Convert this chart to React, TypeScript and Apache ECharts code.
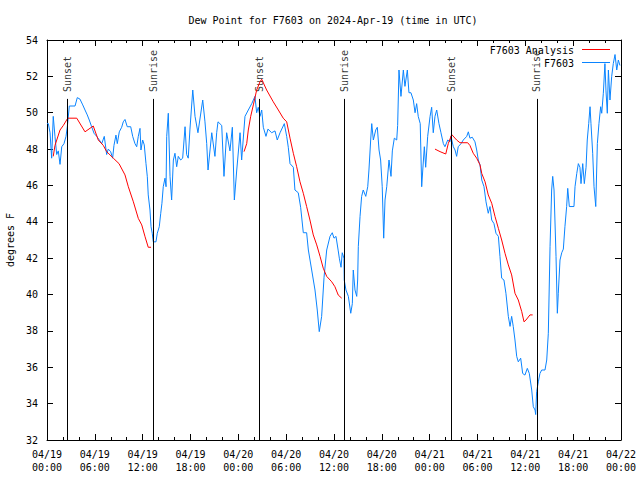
import React, { useEffect, useRef } from "react";
import * as echarts from "echarts";

// x values are minutes since 2024-04-19 00:00 UTC
const xTickLabels = [
  "04/19\n00:00", "04/19\n06:00", "04/19\n12:00", "04/19\n18:00",
  "04/20\n00:00", "04/20\n06:00", "04/20\n12:00", "04/20\n18:00",
  "04/21\n00:00", "04/21\n06:00", "04/21\n12:00", "04/21\n18:00",
  "04/22\n00:00",
];

const obsMinutes = [
  0, 10, 23, 35, 47, 60, 73, 85, 98, 111, 128, 143, 153, 168, 211, 228, 248, 269, 286, 303,
  318, 336, 354, 374, 394, 412, 431, 449, 461, 479, 494, 504, 519, 529, 544, 562, 574, 587, 604, 630,
  645, 662, 675, 687, 700, 707, 720, 732, 745, 755, 762, 775, 783, 792, 800, 820, 830, 845, 856, 865,
  875, 888, 896, 901, 913, 926, 938, 951, 963, 976, 988, 1006, 1021, 1039, 1051, 1063, 1076, 1097, 1114, 1136,
  1172, 1189, 1202, 1212, 1240, 1264, 1277, 1287, 1315, 1332, 1352, 1377, 1395, 1410, 1428, 1453, 1465, 1490, 1515, 1541,
  1565, 1578, 1590, 1603, 1616, 1628, 1648, 1663, 1691, 1716, 1733, 1754, 1786, 1804, 1816, 1829, 1854, 1866, 1891, 1909,
  1929, 1954, 1967, 1992, 2017, 2034, 2049, 2067, 2085, 2105, 2130, 2147, 2160, 2175, 2192, 2200, 2213, 2222, 2235, 2237,
  2250, 2268, 2286, 2298, 2305, 2318, 2331, 2338, 2343, 2356, 2368, 2380, 2399, 2414, 2423, 2436, 2444, 2456, 2474, 2486,
  2499, 2511, 2523, 2534, 2544, 2557, 2574, 2589, 2599, 2614, 2632, 2639, 2649, 2664, 2682, 2694, 2712, 2724, 2739, 2757,
  2770, 2782, 2794, 2809, 2820, 2828, 2840, 2850, 2865, 2883, 2895, 2907, 2920, 2933, 2950, 2965, 2983, 2995, 3016, 3033,
  3040, 3058, 3071, 3083, 3095, 3116, 3133, 3159, 3171, 3183, 3201, 3221, 3234, 3246, 3259, 3272, 3289, 3304, 3321, 3334,
  3347, 3364, 3379, 3397, 3409, 3422, 3439, 3454, 3472, 3485, 3497, 3509, 3522, 3535, 3547, 3565, 3580, 3597, 3615, 3630,
  3648, 3660, 3673, 3678, 3685, 3698, 3710, 3723, 3748, 3761, 3773, 3786, 3798, 3806, 3816, 3831, 3841, 3848, 3861, 3874,
  3886, 3898, 3911, 3919, 3931, 3966, 3974, 3987, 3999, 4011, 4019, 4032, 4044, 4057, 4066, 4077, 4087, 4094, 4107, 4117,
  4130, 4142, 4154, 4167, 4175, 4187, 4199, 4207, 4217, 4225, 4237, 4250, 4262, 4275, 4288, 4300, 4312,
];

const obsValues = [
  49.4, 49.4, 48.9, 47.5, 49.8, 48.7, 47.7, 47.9, 47.16, 48.13, 48.3, 48.7, 49.23, 50.37, 50.37, 50.83, 50.75, 50.43, 50.15, 49.88,
  49.6, 49.23, 48.87, 48.7, 48.5, 48.3, 48.7, 47.7, 48.0, 47.86, 47.5, 48.2, 48.77, 48.3, 48.95, 49.2, 49.5, 49.63, 49.23, 49.23,
  48.7, 48.3, 48.13, 48.7, 49.14, 47.95, 48.5, 48.23, 47.2, 46.48, 45.48, 44.65, 43.73, 43.37, 42.9, 42.9, 43.37, 43.73, 44.47, 45.02,
  45.93, 46.4, 45.93, 48.7, 49.97, 46.48, 45.2, 47.4, 47.77, 47.03, 47.6, 47.4, 47.5, 49.23, 47.7, 47.5, 49.1, 51.25, 49.8, 48.9,
  50.7, 49.5, 48.3, 46.85, 48.9, 47.6, 48.9, 49.5, 49.3, 46.5, 48.9, 47.9, 49.2, 45.2, 46.85, 48.9, 47.4, 49.8, 50.15, 50.5,
  50.9, 50.0, 50.3, 49.8, 50.15, 49.2, 48.7, 49.1, 48.9, 49.0, 48.5, 48.9, 49.4, 48.7, 48.1, 47.2, 47.0, 45.75, 45.6, 44.8,
  43.4, 43.4, 42.45, 41.35, 40.25, 39.15, 37.96, 38.8, 40.95, 42.45, 43.2, 43.4, 43.1, 43.2, 42.4, 42.0, 41.5, 42.3, 42.0, 40.8,
  40.25, 39.9, 38.97, 39.5, 41.35, 40.25, 39.9, 40.8, 42.65, 44.3, 45.4, 45.75, 45.4, 45.93, 46.85, 48.5, 49.4, 48.5, 49.05, 49.2,
  47.95, 47.4, 45.93, 43.1, 45.2, 45.93, 47.4, 46.5, 47.9, 48.6, 48.5, 49.3, 52.35, 50.9, 52.35, 51.45, 52.35, 51.1, 51.1, 50.7,
  50.0, 50.5, 49.8, 49.4, 45.93, 46.85, 48.13, 47.0, 48.7, 49.8, 50.3, 48.9, 49.8, 50.15, 49.4, 48.9, 48.3, 48.13, 48.5, 48.4,
  48.7, 48.13, 47.95, 47.6, 48.13, 48.3, 48.5, 48.7, 48.95, 48.6, 48.65, 48.4, 47.95, 47.4, 47.13, 46.3, 45.93, 45.1, 44.47, 44.84,
  44.1, 43.9, 43.37, 43.2, 42.1, 40.9, 40.8, 40.07, 38.8, 38.25, 38.8, 38.25, 37.5, 36.6, 36.3, 36.5, 35.66, 35.57, 35.94, 35.66,
  34.75, 33.83, 33.65, 33.4, 34.66, 35.2, 35.66, 35.85, 35.85, 36.4, 37.87, 42.65, 45.75, 46.5, 45.75, 42.1, 38.97, 40.07, 41.9, 42.3,
  42.5, 43.73, 44.84, 45.84, 44.84, 44.84, 45.93, 46.66, 47.2, 47.0, 46.1, 47.2, 46.1, 47.0, 48.5, 49.4, 50.33, 49.4, 47.77, 45.93,
  44.84, 48.3, 49.4, 50.33, 49.97, 51.07, 52.7, 51.2, 49.97, 52.35, 50.7, 52.0, 52.7, 53.2, 52.35, 52.9, 52.6,
];

// Analysis series: null marks gaps between segments
const anaMinutes = [
  47, 60, 98, 123, 156, 224, 286, 348, 386, 424, 449, 499, 542, 587, 612, 650, 687, 713, 738, 762, 783,
  1100,
  1483, 1503, 1515, 1533, 1553, 1578, 1603, 1616, 1653, 1703, 1741, 1778, 1804, 1829, 1854, 1879, 1904, 1929, 1954, 1979,
  2004, 2030, 2055, 2079, 2105, 2143, 2167, 2192, 2218,
  2600,
  2920, 2958, 3001, 3020, 3046, 3083, 3108, 3166, 3183, 3208, 3234, 3259, 3272, 3297, 3321, 3347, 3372, 3397, 3422, 3447,
  3472, 3497, 3522, 3547, 3573, 3590, 3605, 3635, 3655,
];
const anaValues = [
  47.6, 48.2, 49.05, 49.3, 49.7, 49.7, 48.95, 49.27, 48.5, 48.2, 47.86, 47.5, 47.2, 46.58, 45.93, 45.1, 44.19, 43.83, 43.18, 42.6, 42.6,
  null,
  47.86, 48.3, 49.05, 49.8, 50.43, 51.25, 51.7, 51.84, 51.25, 50.6, 50.15, 49.7, 49.5, 48.6, 47.77, 47.03, 46.2, 45.57, 44.84, 44.1,
  43.28, 42.73, 42.1, 41.45, 41.0, 40.7, 40.43, 39.97, 39.8,
  null,
  48.0, 47.86, 47.73, 48.3, 48.8, 48.5, 48.35, 48.35, 48.2, 47.77, 47.5, 47.13, 46.66, 46.2, 45.48, 45.02, 44.29, 43.64, 43.0, 42.27,
  41.63, 41.08, 40.07, 39.7, 39.06, 38.5, 38.6, 38.88, 38.88,
];

const sunEventMinutes = [153, 800, 1598, 2238, 3043, 3686];
const sunEventNames = ["Sunset", "Sunrise", "Sunset", "Sunrise", "Sunset", "Sunrise"];

const titleText = "Dew Point for F7603 on 2024-Apr-19 (time in UTC)";
const yAxisTitle = "degrees F";
const seriesNames = ["F7603 Analysis", "F7603"];

const FONT = "DejaVu Sans Mono";
const BLUE = "#0a84ff";
const RED = "#ff0000";

export default function App() {
  const ref = useRef<HTMLDivElement>(null);
  useEffect(() => {
    if (!ref.current) return;
    const chart = echarts.init(ref.current, null, { renderer: "svg" });
    const yMin = 32, yMax = 54, lineTop = 50.76, labelBase = 51.14;

    const xAxisCommon = {
      type: "value" as const,
      min: 0,
      max: 4320,
      interval: 360,
      splitLine: { show: false },
      axisLine: { show: true, onZero: false, lineStyle: { color: "#000", width: 1 } },
      axisTick: { show: true, inside: true, length: 6, lineStyle: { color: "#000" } },
      minorTick: { show: true, splitNumber: 3, length: 3, lineStyle: { color: "#000" } },
    };
    const yAxisCommon = {
      type: "value" as const,
      min: yMin,
      max: yMax,
      interval: 2,
      splitLine: { show: false },
      axisLine: { show: true, onZero: false, lineStyle: { color: "#000", width: 1 } },
      axisTick: { show: true, inside: true, length: 6, lineStyle: { color: "#000" } },
    };

    chart.setOption({
      animation: false,
      textStyle: { fontFamily: FONT },
      grid: { left: 47, right: 19, top: 40, bottom: 40, containLabel: false },
      xAxis: [
        {
          ...xAxisCommon,
          position: "bottom",
          axisLabel: {
            show: true,
            margin: 8,
            color: "#000",
            fontFamily: FONT,
            fontSize: 10,
            lineHeight: 13,
            formatter: (v: number) => xTickLabels[Math.round(v / 360)] ?? "",
          },
        },
        { ...xAxisCommon, position: "top", axisLabel: { show: false } },
      ],
      yAxis: [
        {
          ...yAxisCommon,
          position: "left",
          axisLabel: { show: true, margin: 9, color: "#000", fontFamily: FONT, fontSize: 10 },
        },
        { ...yAxisCommon, position: "right", axisLabel: { show: false } },
      ],
      graphic: [
        {
          type: "text",
          x: 333,
          y: 20,
          style: { text: titleText, font: `10px '${FONT}'`, fill: "#000", textAlign: "center", textVerticalAlign: "middle" },
        },
        {
          type: "text",
          x: 10,
          y: 240,
          rotation: Math.PI / 2,
          style: { text: yAxisTitle, font: `10px '${FONT}'`, fill: "#000", textAlign: "center", textVerticalAlign: "middle" },
        },
        {
          type: "text",
          x: 574,
          y: 50,
          z: 100,
          style: { text: seriesNames[0], font: `10px '${FONT}'`, fill: "#000", textAlign: "right", textVerticalAlign: "middle" },
        },
        {
          type: "line",
          z: 100,
          shape: { x1: 582, y1: 49.5, x2: 610, y2: 49.5 },
          style: { stroke: RED, lineWidth: 1 },
        },
        {
          type: "text",
          x: 574,
          y: 63,
          z: 100,
          style: { text: seriesNames[1], font: `10px '${FONT}'`, fill: "#000", textAlign: "right", textVerticalAlign: "middle" },
        },
        {
          type: "line",
          z: 100,
          shape: { x1: 582, y1: 62.5, x2: 610, y2: 62.5 },
          style: { stroke: BLUE, lineWidth: 1 },
        },
      ],
      series: [
        {
          name: "sun",
          type: "line",
          data: [],
          markLine: {
            silent: true,
            symbol: "none",
            label: { show: false },
            lineStyle: { color: "#000", width: 1, type: "solid" },
            data: sunEventMinutes.map((m) => [{ coord: [m, yMin] }, { coord: [m, lineTop] }]),
          },
        },
        {
          name: "sunLabels",
          type: "scatter",
          symbolSize: 0,
          silent: true,
          data: sunEventMinutes.map((m) => [m, labelBase]),
          label: {
            show: true,
            position: [0, 0],
            rotate: 90,
            align: "left",
            verticalAlign: "middle",
            color: "#000",
            fontFamily: FONT,
            fontSize: 10,
            formatter: (p: any) => sunEventNames[p.dataIndex],
          },
        },
        {
          name: seriesNames[1],
          type: "line",
          showSymbol: false,
          symbol: "none",
          lineStyle: { color: BLUE, width: 1 },
          data: obsMinutes.map((m, i) => [m, obsValues[i]]),
          z: 3,
        },
        {
          name: seriesNames[0],
          type: "line",
          showSymbol: false,
          symbol: "none",
          connectNulls: false,
          lineStyle: { color: RED, width: 1 },
          data: anaMinutes.map((m, i) => [m, anaValues[i]]),
          z: 4,
        },
      ],
    });
    return () => chart.dispose();
  }, []);

  return (
    <div
      ref={ref}
      style={{ position: "fixed", left: 0, top: 0, width: 640, height: 480, background: "#fff" }}
    />
  );
}
